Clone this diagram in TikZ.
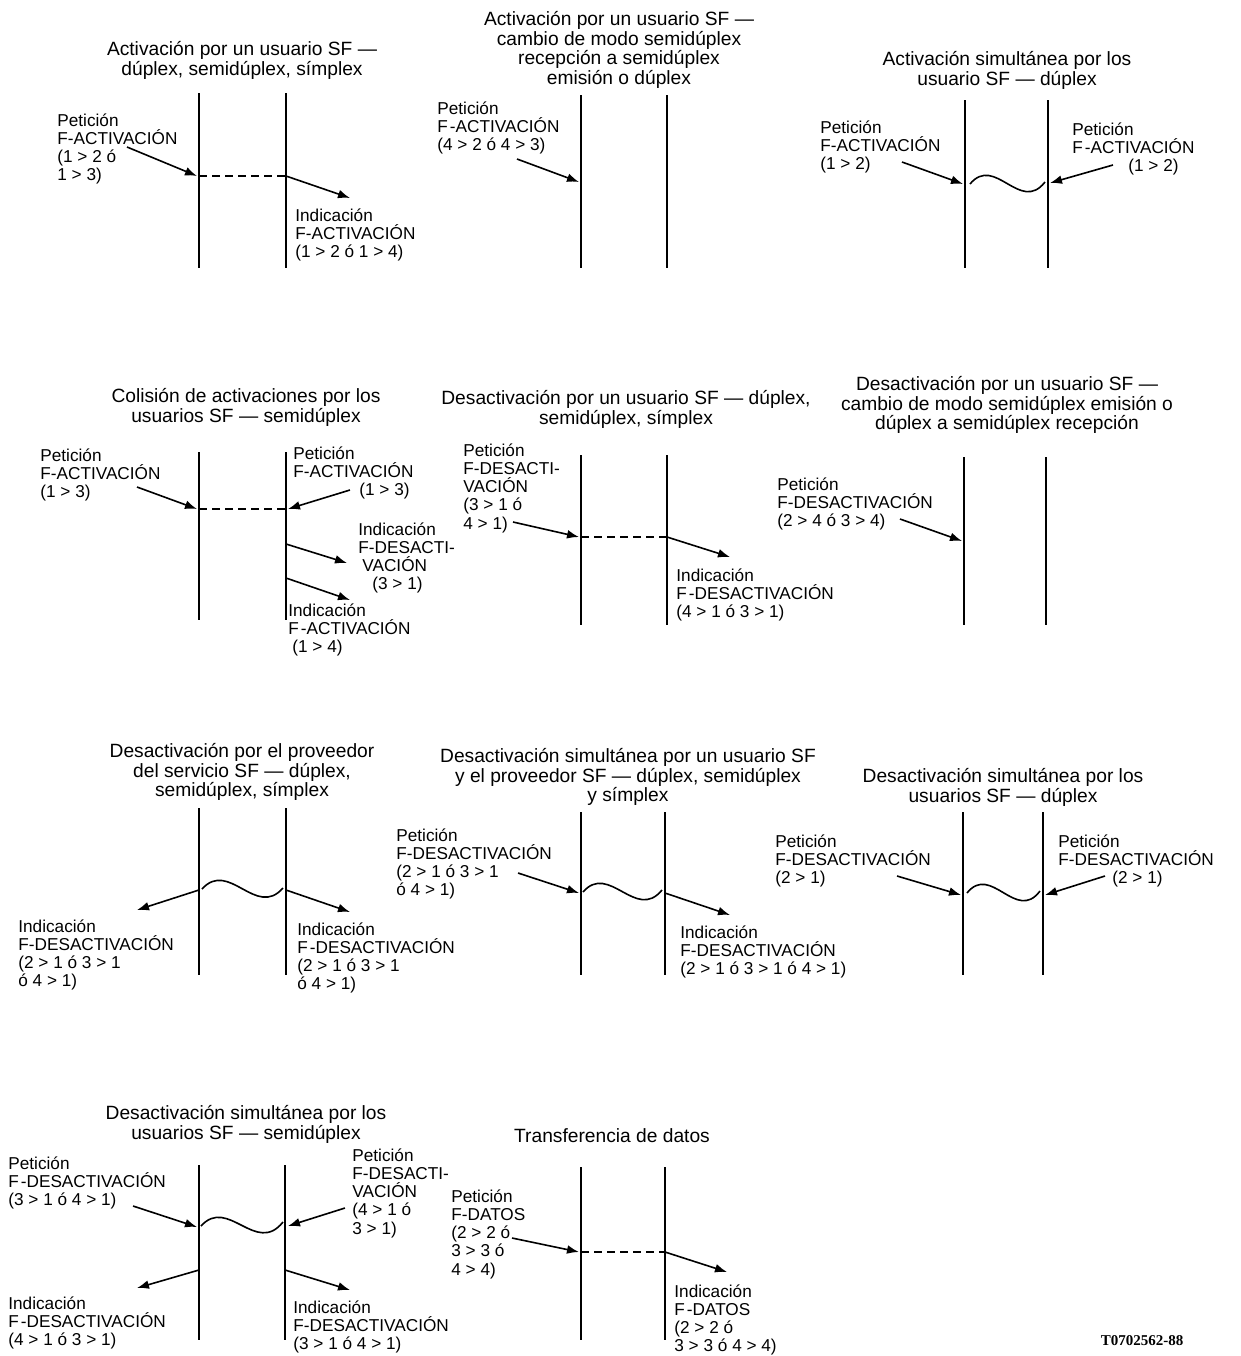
\documentclass[tikz,border=0pt]{standalone}
\usepackage{fontspec}
\setmainfont{Liberation Sans}
\newfontfamily\footfont{Liberation Serif}
\usetikzlibrary{arrows.meta}
\newcommand{\Fsp}{F\kern1pt-}
\begin{document}
\begin{tikzpicture}[x=0.5pt,y=-0.5pt,
  lab/.style={anchor=north west, align=left, inner sep=0pt, font=\fontsize{8.6}{9.15}\selectfont},
  ttl/.style={anchor=north, align=center, inner sep=0pt, font=\fontsize{9.6}{9.75}\selectfont},
  life/.style={line width=1pt},
  arr/.style={line width=0.8pt, -{Latex[length=6pt,width=4.4pt]}},
  dsh/.style={line width=0.8pt, dash pattern=on 4pt off 2.5pt},
  wav/.style={line width=0.8pt}]
\useasboundingbox (0,0) rectangle (1241,1356);

% ---------- Panel 1
\node[ttl] (t1) at (242,41) {Activación por un usuario SF —\\dúplex, semidúplex, símplex};
\draw[life] (199,93) -- (199,268);
\draw[life] (286,93) -- (286,268);
\node[lab] (p1) at (57,113) {Petición\\F-ACTIVACIÓN\\(1 > 2 ó\\1 > 3)};
\coordinate (a1s) at (127,147); \coordinate (a1e) at (197,176);
\coordinate (d1s) at (199,176); \coordinate (d1e) at (286,176);
\coordinate (b1e) at (350,198);
\draw[arr] (a1s) -- (a1e);
\draw[dsh] (d1s) -- (d1e);
\draw[arr] (d1e) -- (b1e);
\node[lab] (i1) at (295,208) {Indicación\\F-ACTIVACIÓN\\(1 > 2 ó 1 > 4)};

% ---------- Panel 2
\node[ttl] (t2) at (619,11) {Activación por un usuario SF —\\cambio de modo semidúplex\\recepción a semidúplex\\emisión o dúplex};
\draw[life] (581,95) -- (581,268);
\draw[life] (667,95) -- (667,268);
\node[lab] (p2) at (437,101) {Petición\\\Fsp ACTIVACIÓN\\(4 > 2 ó 4 > 3)};
\coordinate (a2s) at (517,159); \coordinate (a2e) at (579,182);
\draw[arr] (a2s) -- (a2e);

% ---------- Panel 3
\node[ttl] (t3) at (1007,51) {Activación simultánea por los\\usuario SF — dúplex};
\draw[life] (965,100) -- (965,268);
\draw[life] (1048,100) -- (1048,268);
\node[lab] (p3a) at (820,120) {Petición\\F-ACTIVACIÓN\\(1 > 2)};
\node[lab] (p3b) at (1072,122) {Petición\\\Fsp ACTIVACIÓN\\\hspace*{28pt}(1 > 2)};
\coordinate (a3s) at (902,162); \coordinate (a3e) at (963,184);
\coordinate (c3s) at (1113,165); \coordinate (c3e) at (1050,183);
\coordinate (w3s) at (970,184); \coordinate (w3e) at (1045,182);
\draw[arr] (a3s) -- (a3e);
\draw[arr] (c3s) -- (c3e);
\draw[wav] (w3s) .. controls (995,154) and (1020,214) .. (w3e);

% ---------- Panel 4
\node[ttl] (t4) at (246,388) {Colisión de activaciones por los\\usuarios SF — semidúplex};
\draw[life] (199,452) -- (199,620);
\draw[life] (286,452) -- (286,620);
\node[lab] (p4a) at (40,448) {Petición\\F-ACTIVACIÓN\\(1 > 3)};
\node[lab] (p4b) at (293,446) {Petición\\F-ACTIVACIÓN\\\hspace*{33pt}(1 > 3)};
\coordinate (a4s) at (137,487); \coordinate (a4e) at (197,509);
\coordinate (d4s) at (199,509); \coordinate (d4e) at (286,509);
\coordinate (c4s) at (350,490); \coordinate (c4e) at (288,509);
\coordinate (e4s) at (286,544); \coordinate (e4e) at (347,563);
\coordinate (f4s) at (286,578); \coordinate (f4e) at (350,600);
\draw[arr] (a4s) -- (a4e);
\draw[dsh] (d4s) -- (d4e);
\draw[arr] (c4s) -- (c4e);
\draw[arr] (e4s) -- (e4e);
\draw[arr] (f4s) -- (f4e);
\node[lab] (i4a) at (358,522) {Indicación\\F-DESACTI-\\\hspace*{2pt}VACIÓN\\\hspace*{7pt}(3 > 1)};
\node[lab] (i4b) at (288,603) {Indicación\\\Fsp ACTIVACIÓN\\\hspace*{2pt}(1 > 4)};

% ---------- Panel 5
\node[ttl] (t5) at (626,390) {Desactivación por un usuario SF — dúplex,\\semidúplex, símplex};
\draw[life] (581,455) -- (581,625);
\draw[life] (667,455) -- (667,625);
\node[lab] (p5) at (463,443) {Petición\\F-DESACTI-\\VACIÓN\\(3 > 1 ó\\4 > 1)};
\coordinate (a5s) at (513,522); \coordinate (a5e) at (579,537);
\coordinate (d5s) at (581,537); \coordinate (d5e) at (667,537);
\coordinate (b5e) at (730,557);
\draw[arr] (a5s) -- (a5e);
\draw[dsh] (d5s) -- (d5e);
\draw[arr] (d5e) -- (b5e);
\node[lab] (i5) at (676,568) {Indicación\\\Fsp DESACTIVACIÓN\\(4 > 1 ó 3 > 1)};

% ---------- Panel 6
\node[ttl] (t6) at (1007,376) {Desactivación por un usuario SF —\\cambio de modo semidúplex emisión o\\dúplex a semidúplex recepción};
\draw[life] (964,457) -- (964,625);
\draw[life] (1046,457) -- (1046,625);
\node[lab] (p6) at (777,477) {Petición\\F-DESACTIVACIÓN\\(2 > 4 ó 3 > 4)};
\coordinate (a6s) at (900,519); \coordinate (a6e) at (962,541);
\draw[arr] (a6s) -- (a6e);

% ---------- Panel 7
\node[ttl] (t7) at (242,743) {Desactivación por el proveedor\\del servicio SF — dúplex,\\semidúplex, símplex};
\draw[life] (199,808) -- (199,975);
\draw[life] (286,808) -- (286,975);
\coordinate (w7s) at (202,889); \coordinate (w7e) at (283,888);
\draw[wav] (w7s) .. controls (229,859) and (256,919) .. (w7e);
\coordinate (o7l) at (199,890); \coordinate (e7l) at (137,910);
\coordinate (o7r) at (286,890); \coordinate (e7r) at (350,912);
\draw[arr] (o7l) -- (e7l);
\draw[arr] (o7r) -- (e7r);
\node[lab] (i7a) at (18,919) {Indicación\\F-DESACTIVACIÓN\\(2 > 1 ó 3 > 1\\ó 4 > 1)};
\node[lab] (i7b) at (297,922) {Indicación\\\Fsp DESACTIVACIÓN\\(2 > 1 ó 3 > 1\\ó 4 > 1)};

% ---------- Panel 8
\node[ttl] (t8) at (628,748) {Desactivación simultánea por un usuario SF\\y el proveedor SF — dúplex, semidúplex\\y símplex};
\draw[life] (581,812) -- (581,975);
\draw[life] (665,812) -- (665,975);
\node[lab] (p8) at (396,828) {Petición\\F-DESACTIVACIÓN\\(2 > 1 ó 3 > 1\\ó 4 > 1)};
\coordinate (a8s) at (518,873); \coordinate (a8e) at (579,893);
\coordinate (w8s) at (583,892); \coordinate (w8e) at (662,890);
\coordinate (o8) at (665,893); \coordinate (b8e) at (730,915);
\draw[arr] (a8s) -- (a8e);
\draw[wav] (w8s) .. controls (609,862) and (636,922) .. (w8e);
\draw[arr] (o8) -- (b8e);
\node[lab] (i8) at (680,925) {Indicación\\F-DESACTIVACIÓN\\(2 > 1 ó 3 > 1 ó 4 > 1)};

% ---------- Panel 9
\node[ttl] (t9) at (1003,768) {Desactivación simultánea por los\\usuarios SF — dúplex};
\draw[life] (963,812) -- (963,975);
\draw[life] (1043,812) -- (1043,975);
\node[lab] (p9a) at (775,834) {Petición\\F-DESACTIVACIÓN\\(2 > 1)};
\node[lab] (p9b) at (1058,834) {Petición\\F-DESACTIVACIÓN\\\hspace*{27pt}(2 > 1)};
\coordinate (a9s) at (897,876); \coordinate (a9e) at (961,895);
\coordinate (c9s) at (1105,876); \coordinate (c9e) at (1045,895);
\coordinate (w9s) at (967,893); \coordinate (w9e) at (1040,891);
\draw[arr] (a9s) -- (a9e);
\draw[arr] (c9s) -- (c9e);
\draw[wav] (w9s) .. controls (991,863) and (1016,923) .. (w9e);

% ---------- Panel 10
\node[ttl] (t10) at (246,1105) {Desactivación simultánea por los\\usuarios SF — semidúplex};
\draw[life] (199,1165) -- (199,1340);
\draw[life] (285,1165) -- (285,1340);
\node[lab] (p10a) at (8,1156) {Petición\\\Fsp DESACTIVACIÓN\\(3 > 1 ó 4 > 1)};
\node[lab] (p10b) at (352,1148) {Petición\\F-DESACTI-\\VACIÓN\\(4 > 1 ó\\3 > 1)};
\coordinate (a10s) at (133,1206); \coordinate (a10e) at (197,1227);
\coordinate (c10s) at (345,1208); \coordinate (c10e) at (288,1226);
\coordinate (w10s) at (201,1226); \coordinate (w10e) at (283,1222);
\coordinate (o10l) at (199,1270); \coordinate (e10l) at (137,1288);
\coordinate (o10r) at (285,1270); \coordinate (e10r) at (350,1290);
\draw[arr] (a10s) -- (a10e);
\draw[arr] (c10s) -- (c10e);
\draw[wav] (w10s) .. controls (228,1196) and (256,1256) .. (w10e);
\draw[arr] (o10l) -- (e10l);
\draw[arr] (o10r) -- (e10r);
\node[lab] (i10a) at (8,1296) {Indicación\\\Fsp DESACTIVACIÓN\\(4 > 1 ó 3 > 1)};
\node[lab] (i10b) at (293,1300) {Indicación\\F-DESACTIVACIÓN\\(3 > 1 ó 4 > 1)};

% ---------- Panel 11
\node[ttl] (t11) at (612,1128) {Transferencia de datos};
\draw[life] (581,1167) -- (581,1340);
\draw[life] (665,1167) -- (665,1340);
\node[lab] (p11) at (451,1189) {Petición\\F-DATOS\\(2 > 2 ó\\3 > 3 ó\\4 > 4)};
\coordinate (a11s) at (512,1238); \coordinate (a11e) at (579,1252);
\coordinate (d11s) at (581,1252); \coordinate (d11e) at (665,1252);
\coordinate (b11e) at (727,1272);
\draw[arr] (a11s) -- (a11e);
\draw[dsh] (d11s) -- (d11e);
\draw[arr] (d11e) -- (b11e);
\node[lab] (i11) at (674,1284) {Indicación\\\Fsp DATOS\\(2 > 2 ó\\3 > 3 ó 4 > 4)};

% ---------- Footer
\node[inner sep=0pt, font=\footfont\bfseries\fontsize{7.5}{8}\selectfont] (ft) at (1142,1341) {T0702562-88};
\end{tikzpicture}
\end{document}
